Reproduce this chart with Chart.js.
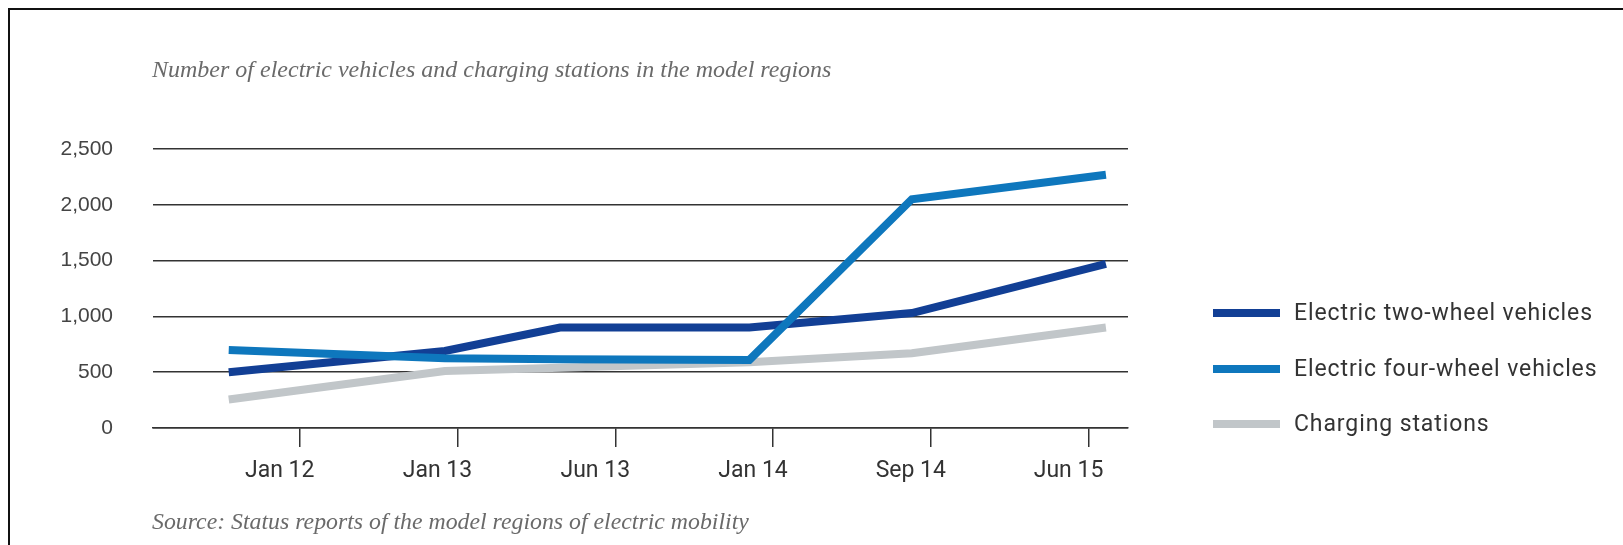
<!DOCTYPE html>
<html>
<head>
<meta charset="utf-8">
<script src="https://cdn.jsdelivr.net/npm/chart.js@4/dist/chart.umd.min.js"></script>
<style>
  html, body { margin: 0; padding: 0; background: #fff; }
  #wrap { position: relative; width: 1623px; height: 545px; overflow: hidden; background: #fff; }
  #c { position: absolute; left: 0; top: 0; }
  .frameTop { position: absolute; left: 8px; top: 8px; right: 0; height: 2px; background: #111; }
  .frameLeft { position: absolute; left: 8px; top: 8px; width: 2px; bottom: 0; background: #111; }
  .note { position: absolute; left: 152px; font-family: 'Liberation Serif', serif; font-style: italic; color: #6a6a6a; white-space: nowrap; font-size: 24px; }
  #title { top: 56px; }
  #source { top: 508px; }
  #source { font-size: 23.8px; }
  #legend { position: absolute; left: 1213px; top: 298px; font-family: Roboto, sans-serif; font-size: 23px; letter-spacing: 0.9px; color: #333; }
  .row { position: absolute; left: 0; height: 30px; white-space: nowrap; }
  .sw { position: absolute; left: 0; top: 11px; width: 67px; height: 8px; }
  .lbl { position: absolute; left: 81px; top: 0; line-height: 30px; }
</style>
</head>
<body>
<div id="wrap">
  <canvas id="c" width="1623" height="545"></canvas>
  <div class="frameTop"></div>
  <div class="frameLeft"></div>
  <div id="title" class="note">Number of electric vehicles and charging stations in the model regions</div>
  <div id="source" class="note">Source: Status reports of the model regions of electric mobility</div>
  <div id="legend"></div>
</div>
<script>
// Tick labels of the time axis (evenly spaced ticks)
const tickLabels = ['Jan 12', 'Jan 13', 'Jun 13', 'Jan 14', 'Sep 14', 'Jun 15'];
const obsPos = [-0.45, 0.92, 1.65, 2.85, 3.88, 5.11];
// Series values
const twoWheel = [500, 690, 900, 900, 1030, 1470];
const fourWheel = [700, 625, 615, 610, 2050, 2270];
const chargingStations = [255, 510, 540, 590, 670, 900];
const seriesNames = ['Electric two-wheel vehicles', 'Electric four-wheel vehicles', 'Charging stations'];
const yTicks = [0, 500, 1000, 1500, 2000, 2500];

const colors = ['#123f95', '#0e77bd', '#c1c6c9'];
const toPts = arr => arr.map((v, i) => ({ x: obsPos[i], y: v }));

const datasets = [twoWheel, fourWheel, chargingStations].map((arr, i) => ({
  label: seriesNames[i],
  data: toPts(arr),
  borderColor: colors[i],
  backgroundColor: colors[i],
  borderWidth: 8,
  pointRadius: 0,
  tension: 0,
  borderCapStyle: 'butt',
  borderJoinStyle: 'miter',
  fill: false,
  order: [2, 1, 3][i]
}));

const chart = new Chart(document.getElementById('c'), {
  type: 'line',
  data: { datasets },
  options: {
    responsive: false,
    animation: false,
    devicePixelRatio: 1,
    layout: { padding: { left: 0, right: 495, top: 149, bottom: 0 } },
    plugins: { legend: { display: false }, tooltip: { enabled: false }, title: { display: false } },
    scales: {
      x: {
        type: 'linear',
        min: -0.93,
        max: 5.25,
        afterBuildTicks: s => { s.ticks = tickLabels.map((_, i) => ({ value: i })); },
        afterFit: s => { s.height = 117; },
        ticks: {
          callback: (v) => tickLabels[v] ?? '',
          font: { family: 'Roboto', size: 23 },
          color: '#333',
          padding: 10,
          labelOffset: -20,
          maxRotation: 0,
          autoSkip: false
        },
        grid: { drawOnChartArea: false, drawTicks: true, tickLength: 19, color: '#333', lineWidth: 1.5 },
        border: { display: true, color: '#333', width: 1.5 }
      },
      y: {
        min: 0,
        max: 2500,
        afterBuildTicks: s => { s.ticks = yTicks.map(v => ({ value: v })); },
        afterFit: s => { s.width = 153; },
        ticks: {
          callback: v => v.toLocaleString('en-US'),
          font: { family: 'Liberation Sans', size: 21 },
          color: '#444',
          padding: 40
        },
        grid: { color: '#333', lineWidth: 1.5, drawTicks: false },
        border: { display: false }
      }
    }
  }
});

// HTML legend built from the chart's datasets
const legend = document.getElementById('legend');
chart.data.datasets.forEach((ds, i) => {
  const row = document.createElement('div');
  row.className = 'row';
  row.style.top = (i * 55.5) + 'px';
  const sw = document.createElement('div');
  sw.className = 'sw';
  sw.style.background = ds.borderColor;
  const lbl = document.createElement('div');
  lbl.className = 'lbl';
  lbl.textContent = ds.label;
  row.appendChild(sw);
  row.appendChild(lbl);
  legend.appendChild(row);
});
</script>
</body>
</html>
